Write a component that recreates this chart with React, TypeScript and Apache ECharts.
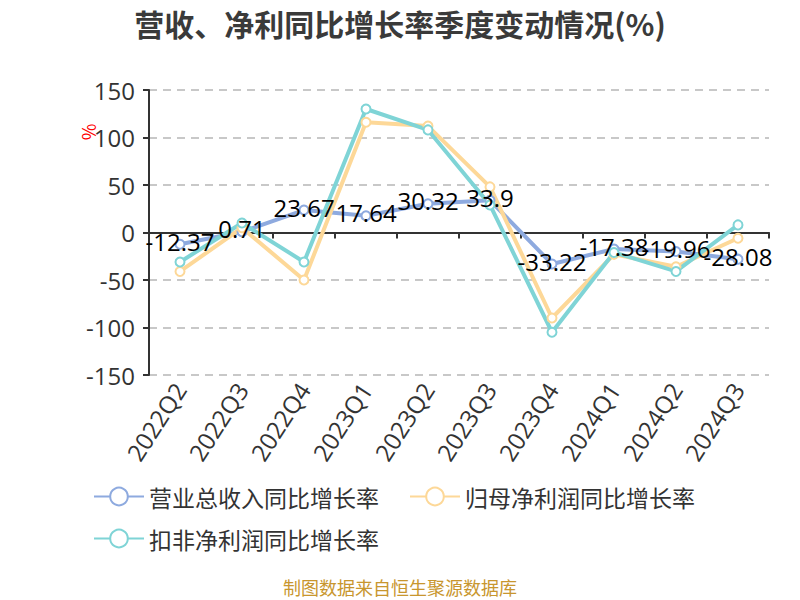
import React, { useEffect, useRef } from "react";
import * as echarts from "echarts";

const categories = ["2022Q2", "2022Q3", "2022Q4", "2023Q1", "2023Q2", "2023Q3", "2023Q4", "2024Q1", "2024Q2", "2024Q3"];
const revenueGrowth = [-12.37, 0.71, 23.67, 17.64, 30.32, 33.9, -33.22, -17.38, -19.96, -28.08];
const netProfitGrowth = [-41, 5, -50, 116, 112, 48, -90, -23, -36, -6];
const deductedProfitGrowth = [-31, 10, -31, 130, 108, 29, -105, -21, -41, 8];
const yTicks = { min: -150, max: 150, interval: 50 };
const seriesNames = ["营业总收入同比增长率", "归母净利润同比增长率", "扣非净利润同比增长率"];

export default function App() {
  const ref = useRef<HTMLDivElement>(null);
  useEffect(() => {
    if (!ref.current) return;
    const chart = echarts.init(ref.current, null, { renderer: "svg" });
    const font = "'Noto Sans CJK SC', 'Noto Sans', sans-serif";
    const numFont = "'Open Sans', 'Noto Sans CJK SC', sans-serif";
    const mk = (name: string, data: number[], color: string, label: boolean) => ({
      name,
      type: "line",
      data,
      symbol: "emptyCircle",
      symbolSize: 9,
      lineStyle: { width: 4, color },
      itemStyle: { color, borderWidth: 2 },
      label: label
        ? { show: true, position: "inside", offset: [0, -3], color: "#000", fontSize: 24, fontFamily: numFont }
        : { show: false },
    });
    const legendBase = {
      left: 88,
      itemWidth: 50,
      itemHeight: 22,
      itemGap: 30,
      textStyle: { fontSize: 23, color: "#333", fontFamily: font },
    };
    chart.setOption({
      animation: false,
      textStyle: { fontFamily: font },
      title: {
        text: "营收、净利同比增长率季度变动情况(%)",
        left: "center",
        top: 3,
        textStyle: { fontSize: 30, fontWeight: "bold", color: "#3a3a3a", fontFamily: font },
      },
      grid: { left: 149, right: 31, top: 90, bottom: 225 },
      legend: [
        { ...legendBase, top: 480, data: [seriesNames[0], seriesNames[1]] },
        { ...legendBase, top: 522, data: [seriesNames[2]] },
      ],
      xAxis: {
        type: "category",
        data: categories,
        boundaryGap: true,
        axisLine: { onZero: true, lineStyle: { color: "#333", width: 2 } },
        axisTick: { show: true, length: 6, lineStyle: { color: "#333", width: 2 } },
        axisLabel: { rotate: 57, fontSize: 24, color: "#333", interval: 0, margin: 10, fontFamily: numFont },
        position: "bottom",
      },
      yAxis: {
        type: "value",
        min: yTicks.min,
        max: yTicks.max,
        interval: yTicks.interval,
        axisLine: { show: true, lineStyle: { color: "#333", width: 2 } },
        axisTick: { show: true, length: 6, lineStyle: { color: "#333", width: 2 } },
        axisLabel: { fontSize: 24, color: "#333", fontFamily: numFont, margin: 14 },
        splitLine: { lineStyle: { type: [8, 6], color: "#c8c8c8", width: 2 } },
      },
      graphic: [
        {
          type: "text",
          x: 88,
          y: 132,
          rotation: Math.PI / 2,
          style: { text: "%", fill: "red", fontSize: 18, fontFamily: font, align: "center", verticalAlign: "middle" },
        },
        {
          type: "text",
          x: 400,
          y: 587,
          style: {
            text: "制图数据来自恒生聚源数据库",
            fill: "#c8962e",
            fontSize: 18,
            fontFamily: font,
            align: "center",
            verticalAlign: "middle",
          },
        },
      ],
      series: [
        mk(seriesNames[0], revenueGrowth, "#8eaadf", true),
        mk(seriesNames[1], netProfitGrowth, "#fdd898", false),
        mk(seriesNames[2], deductedProfitGrowth, "#7fd4d6", false),
      ],
    });
    return () => chart.dispose();
  }, []);
  return (
    <div
      ref={ref}
      style={{ position: "absolute", left: 0, top: 0, width: 800, height: 600, overflow: "hidden" }}
    />
  );
}
